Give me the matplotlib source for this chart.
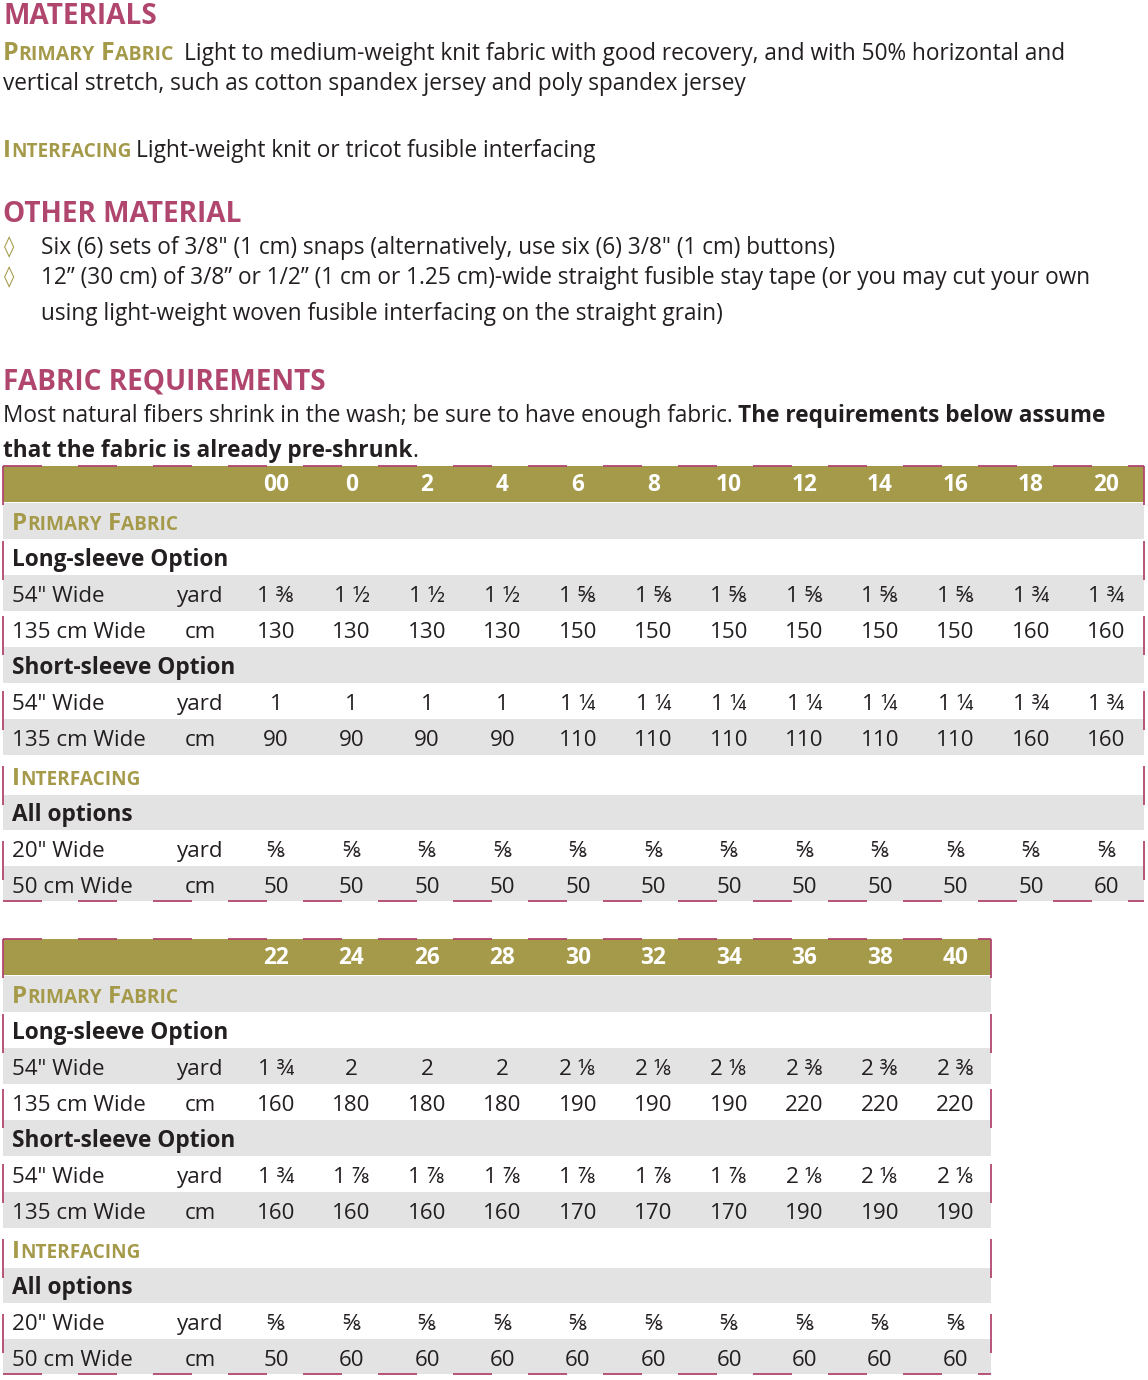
import matplotlib
matplotlib.use("Agg")
import matplotlib.pyplot as plt
from matplotlib.patches import Rectangle

FAM = ['Open Sans', 'DejaVu Sans']
plt.rcParams['font.family'] = FAM

CRIMSON = '#B0466E'
OLIVE = '#A59A4A'
DARK = '#231F20'
GRAY = '#E3E3E3'

# ---------------- data ----------------
sizes_1 = ['00', '0', '2', '4', '6', '8', '10', '12', '14', '16', '18', '20']
long_yard_1 = ['1 ⅜', '1 ½', '1 ½', '1 ½', '1 ⅝', '1 ⅝', '1 ⅝', '1 ⅝', '1 ⅝', '1 ⅝', '1 ¾', '1 ¾']
long_cm_1 = ['130', '130', '130', '130', '150', '150', '150', '150', '150', '150', '160', '160']
short_yard_1 = ['1', '1', '1', '1', '1 ¼', '1 ¼', '1 ¼', '1 ¼', '1 ¼', '1 ¼', '1 ¾', '1 ¾']
short_cm_1 = ['90', '90', '90', '90', '110', '110', '110', '110', '110', '110', '160', '160']
int_yard_1 = ['⅝', '⅝', '⅝', '⅝', '⅝', '⅝', '⅝', '⅝', '⅝', '⅝', '⅝', '⅝']
int_cm_1 = ['50', '50', '50', '50', '50', '50', '50', '50', '50', '50', '50', '60']

sizes_2 = ['22', '24', '26', '28', '30', '32', '34', '36', '38', '40']
long_yard_2 = ['1 ¾', '2', '2', '2', '2 ⅛', '2 ⅛', '2 ⅛', '2 ⅜', '2 ⅜', '2 ⅜']
long_cm_2 = ['160', '180', '180', '180', '190', '190', '190', '220', '220', '220']
short_yard_2 = ['1 ¾', '1 ⅞', '1 ⅞', '1 ⅞', '1 ⅞', '1 ⅞', '1 ⅞', '2 ⅛', '2 ⅛', '2 ⅛']
short_cm_2 = ['160', '160', '160', '160', '170', '170', '170', '190', '190', '190']
int_yard_2 = ['⅝', '⅝', '⅝', '⅝', '⅝', '⅝', '⅝', '⅝', '⅝', '⅝']
int_cm_2 = ['50', '60', '60', '60', '60', '60', '60', '60', '60', '60']

row_labels = ['54" Wide', '135 cm Wide', '54" Wide', '135 cm Wide', '20" Wide', '50 cm Wide']
row_units = ['yard', 'cm', 'yard', 'cm', 'yard', 'cm']

# ---------------- figure ----------------
W, H = 1148, 1380
fig = plt.figure(figsize=(W / 100, H / 100), dpi=100)
ax = fig.add_axes([0, 0, 1, 1])
ax.set_xlim(0, W)
ax.set_ylim(H, 0)
ax.axis('off')
R = fig.canvas.get_renderer()

BODY = 16.3
HEAD = 20.2
TBL = 16.1
TBLB = 16.3


def put(x, y, s, size=BODY, color=DARK, weight='normal', ha='left', family=FAM):
    t = ax.text(x, y, s, fontsize=size, color=color, fontweight=weight,
                ha=ha, va='baseline', family=family)
    return t


def width(t):
    return t.get_window_extent(renderer=R).width


def smallcaps(x, y, text, size, color=OLIVE, ratio=0.78, gap=6):
    words = text.split()
    for i, w in enumerate(words):
        t = put(x, y, w[0], size, color, 'bold')
        x += width(t)
        t = put(x, y, w[1:].upper(), size * ratio, color, 'bold')
        x += width(t)
        if i < len(words) - 1:
            x += gap
    return x


# ---------------- text block ----------------
put(3, 24, 'MATERIALS', HEAD, CRIMSON, 'bold')
smallcaps(3, 60, 'Primary Fabric', 18)
put(184, 60, 'Light to medium-weight knit fabric with good recovery, and with 50% horizontal and')
put(3, 90, 'vertical stretch, such as cotton spandex jersey and poly spandex jersey')
xe = smallcaps(3, 157, 'Interfacing', 17.5)
put(xe + 5, 157, 'Light-weight knit or tricot fusible interfacing')

put(3, 222, 'OTHER MATERIAL', HEAD, CRIMSON, 'bold')
put(4, 253, '◊', 15, OLIVE, family=['DejaVu Sans'])
put(41, 254, 'Six (6) sets of 3/8" (1 cm) snaps (alternatively, use six (6) 3/8" (1 cm) buttons)')
put(4, 283, '◊', 15, OLIVE, family=['DejaVu Sans'])
put(41, 284, '12” (30 cm) of 3/8” or 1/2” (1 cm or 1.25 cm)-wide straight fusible stay tape (or you may cut your own')
put(41, 320, 'using light-weight woven fusible interfacing on the straight grain)')

put(3, 390, 'FABRIC REQUIREMENTS', HEAD, CRIMSON, 'bold')
t = put(3, 422, 'Most natural fibers shrink in the wash; be sure to have enough fabric.')
put(3 + width(t) + 5, 422, 'The requirements below assume', BODY, DARK, 'bold')
t = put(3, 457, 'that the fabric is already pre-shrunk', BODY, DARK, 'bold')
put(3 + width(t), 457, '.')


# ---------------- tables ----------------
COL0, DCOL = 276, 75.5
LEFT = 3


def dashed(x0, y0, x1, y1):
    lw = 1.3
    d = 39 * 0.72 / lw
    g = 36 * 0.72 / lw
    ax.plot([x0, x1], [y0, y1], color=CRIMSON, lw=lw,
            linestyle=(0, (d, g)), solid_capstyle='butt', zorder=5)


def table(top, right, sizes, ly, lc, sy, sc, iy, ic):
    n = len(sizes)
    xs = [COL0 + DCOL * i for i in range(n)]
    bands = [(0, 36, OLIVE), (37, 73, GRAY), (109, 145, GRAY), (181, 217, GRAY),
             (253, 289, GRAY), (329, 364, GRAY), (400, 435, GRAY)]
    for a, b, c in bands:
        ax.add_patch(Rectangle((LEFT, top + a), right - LEFT, b - a, color=c, lw=0, zorder=1))
    for x, s in zip(xs, sizes):
        put(x, top + 25, s, TBLB, 'white', 'bold', ha='center')
    smallcaps(12, top + 64, 'Primary Fabric', 17.5, ratio=0.78, gap=6)
    put(12, top + 100, 'Long-sleeve Option', TBLB, DARK, 'bold')
    put(12, top + 208, 'Short-sleeve Option', TBLB, DARK, 'bold')
    smallcaps(12, top + 319, 'Interfacing', 17.5, ratio=0.78)
    put(12, top + 355, 'All options', TBLB, DARK, 'bold')
    data_rows = [(ly, 136), (lc, 172), (sy, 244), (sc, 280), (iy, 391), (ic, 427)]
    for k, (vals, off) in enumerate(data_rows):
        put(12, top + off, row_labels[k], TBL)
        put(200, top + off, row_units[k], TBL, ha='center')
        for x, v in zip(xs, vals):
            put(x, top + off, v, TBL, ha='center')
    bot = top + 435
    dashed(LEFT, top, right, top)
    dashed(LEFT, bot, right, bot)
    dashed(LEFT, top, LEFT, bot)
    dashed(right, top, right, bot)


table(466, 1144, sizes_1, long_yard_1, long_cm_1, short_yard_1, short_cm_1, int_yard_1, int_cm_1)
table(939, 991, sizes_2, long_yard_2, long_cm_2, short_yard_2, short_cm_2, int_yard_2, int_cm_2)

fig.savefig('out.png', dpi=100)
